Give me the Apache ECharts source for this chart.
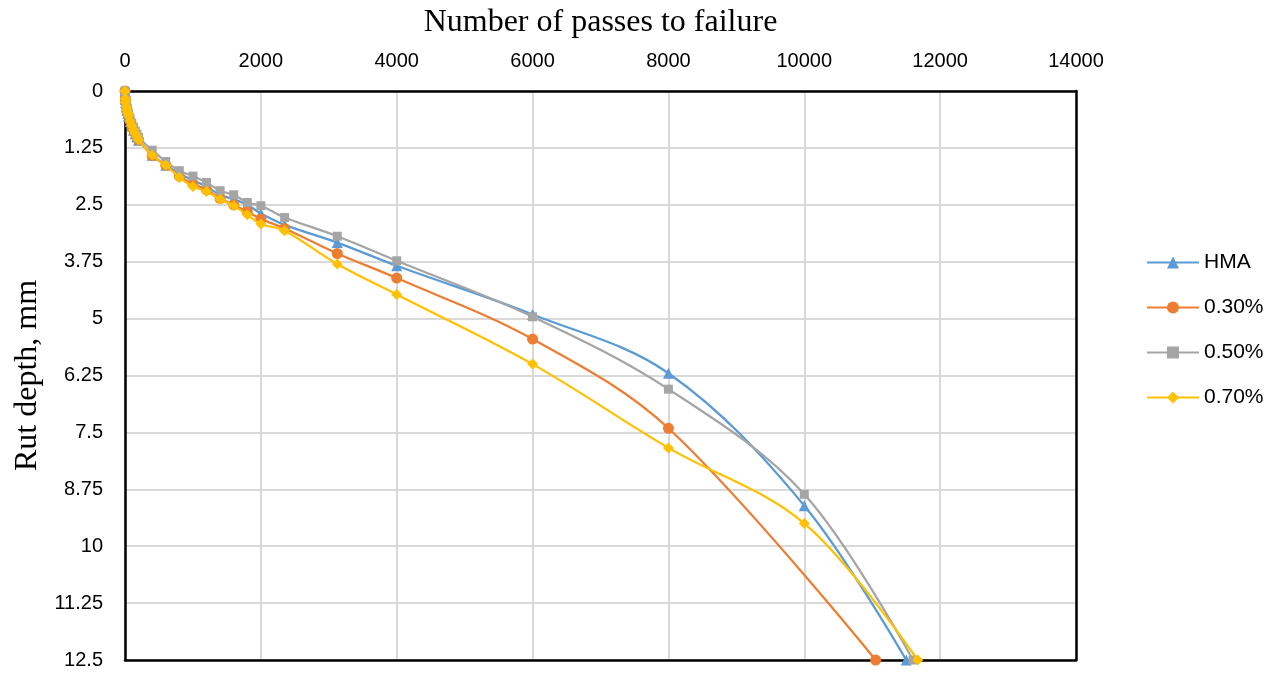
<!DOCTYPE html>
<html>
<head>
<meta charset="utf-8">
<title>Rut depth vs number of passes</title>
<script src="https://cdn.jsdelivr.net/npm/echarts@6/dist/echarts.min.js"></script>
<style>
  html, body { margin: 0; padding: 0; background: #ffffff; }
  #chart { width: 1277px; height: 673px; }
</style>
</head>
<body>
<div id="chart"></div>
<script>
// Wheel passes at which rut depth was recorded (shared by all mixes)
const passes = [0, 5, 10, 20, 30, 40, 50, 75, 100, 125, 150, 175, 200,
  400, 600, 800, 1000, 1200, 1400, 1600, 1800, 2000, 2350, 3125, 4000,
  6000, 8000, 10000];

// Rut depth (mm) per mix; null = no reading at that pass count
const depthHMA = [0, 0.18, 0.25, 0.35, 0.43, 0.49, 0.55, 0.67, 0.77, 0.86, 0.94, 1.01, 1.08,
  1.41, 1.63, 1.81, 1.96, 2.10, 2.28, 2.38, 2.50, 2.69, 2.94, 3.33, 3.84,
  4.91, 6.20, 9.11];
const depth030 = [0, 0.17, 0.24, 0.34, 0.42, 0.48, 0.54, 0.66, 0.76, 0.85, 0.93, 1.00, 1.07,
  1.42, 1.63, 1.87, 2.04, 2.17, 2.36, 2.50, 2.65, 2.81, 3.02, 3.57, 4.11,
  5.45, 7.41, null];
const depth050 = [0, 0.15, 0.22, 0.31, 0.39, 0.45, 0.50, 0.61, 0.71, 0.80, 0.88, 0.95, 1.02,
  1.30, 1.55, 1.75, 1.87, 2.01, 2.19, 2.28, 2.45, 2.52, 2.78, 3.19, 3.73,
  4.96, 6.55, 8.86];
const depth070 = [0, 0.17, 0.24, 0.34, 0.42, 0.48, 0.54, 0.66, 0.76, 0.85, 0.93, 1.00, 1.07,
  1.41, 1.63, 1.90, 2.10, 2.21, 2.38, 2.52, 2.72, 2.92, 3.07, 3.80, 4.47,
  6.00, 7.84, 9.50];

// Passes at failure (rut depth reaches 12.5 mm)
const failurePasses = { HMA: 11500, '0.30%': 11050, '0.50%': 11600, '0.70%': 11670 };
const failureDepth = 12.5;

// Axis tick labels
const passTicks = ['0', '2000', '4000', '6000', '8000', '10000', '12000', '14000'];
const depthTicks = ['0', '1.25', '2.5', '3.75', '5', '6.25', '7.5', '8.75', '10', '11.25', '12.5'];

const seriesNames = ['HMA', '0.30%', '0.50%', '0.70%'];
const seriesDepths = [depthHMA, depth030, depth050, depth070];
const seriesColors = ['#5B9BD5', '#ED7D31', '#A5A5A5', '#FFC000'];
const seriesSymbols = ['triangle', 'circle', 'rect', 'diamond'];
const seriesSymbolSizes = [11, 11, 9, 11];

function buildPoints(depths, name) {
  const pts = [];
  passes.forEach((p, i) => {
    if (depths[i] !== null) pts.push([p, depths[i]]);
  });
  pts.push([failurePasses[name], failureDepth]);
  return pts;
}

const chart = echarts.init(document.getElementById('chart'), null, { renderer: 'canvas' });

const labelFont = { fontFamily: '"Liberation Sans", Arial, sans-serif', fontSize: 20, color: '#000' };
const nameFont = { fontFamily: '"Liberation Serif", "Times New Roman", serif', fontSize: 32, color: '#000' };
const frameLine = { show: true, onZero: false, lineStyle: { color: '#000', width: 2.5 } };
const gridLine = { show: true, lineStyle: { color: '#d9d9d9', width: 2 } };

chart.setOption({
  animation: false,
  backgroundColor: '#ffffff',
  grid: {
    left: 125, right: 201, top: 91, bottom: 13,
    outerBoundsMode: 'none',
    containLabel: false
  },
  legend: {
    orient: 'vertical',
    left: 1141,
    top: 247,
    itemWidth: 52,
    itemHeight: 15,
    itemGap: 24,
    textStyle: { fontFamily: labelFont.fontFamily, fontSize: 21, color: '#000' },
    data: seriesNames
  },
  xAxis: [{
    type: 'value',
    position: 'top',
    min: 0, max: 14000, interval: 2000,
    name: 'Number of passes to failure',
    nameLocation: 'middle',
    nameGap: 52,
    nameTextStyle: nameFont,
    axisLine: frameLine,
    axisTick: { show: false },
    axisLabel: Object.assign({ margin: 20, formatter: v => passTicks[Math.round(v / 2000)] }, labelFont),
    splitLine: gridLine
  }, {
    // bottom edge of the plot frame
    type: 'value',
    position: 'bottom',
    min: 0, max: 14000, interval: 2000,
    axisLine: frameLine,
    axisTick: { show: false },
    axisLabel: { show: false },
    splitLine: { show: false }
  }],
  yAxis: [{
    type: 'value',
    inverse: true,
    min: 0, max: 12.5, interval: 1.25,
    name: 'Rut depth, mm',
    nameLocation: 'middle',
    nameGap: 81,
    nameRotate: 90,
    nameTextStyle: nameFont,
    axisLine: frameLine,
    axisTick: { show: false },
    axisLabel: Object.assign({ margin: 22, formatter: v => depthTicks[Math.round(v / 1.25)] }, labelFont),
    splitLine: gridLine
  }, {
    // right edge of the plot frame
    type: 'value',
    position: 'right',
    inverse: true,
    min: 0, max: 12.5, interval: 1.25,
    axisLine: frameLine,
    axisTick: { show: false },
    axisLabel: { show: false },
    splitLine: { show: false }
  }],
  series: seriesNames.map((name, k) => ({
    name: name,
    type: 'line',
    smooth: 0.35,
    data: buildPoints(seriesDepths[k], name),
    symbol: seriesSymbols[k],
    symbolSize: seriesSymbolSizes[k],
    showAllSymbol: true,
    clip: false,
    color: seriesColors[k],
    lineStyle: { width: 2.25, color: seriesColors[k] },
    itemStyle: { color: seriesColors[k] },
    z: 3 + k
  }))
});
</script>
</body>
</html>
